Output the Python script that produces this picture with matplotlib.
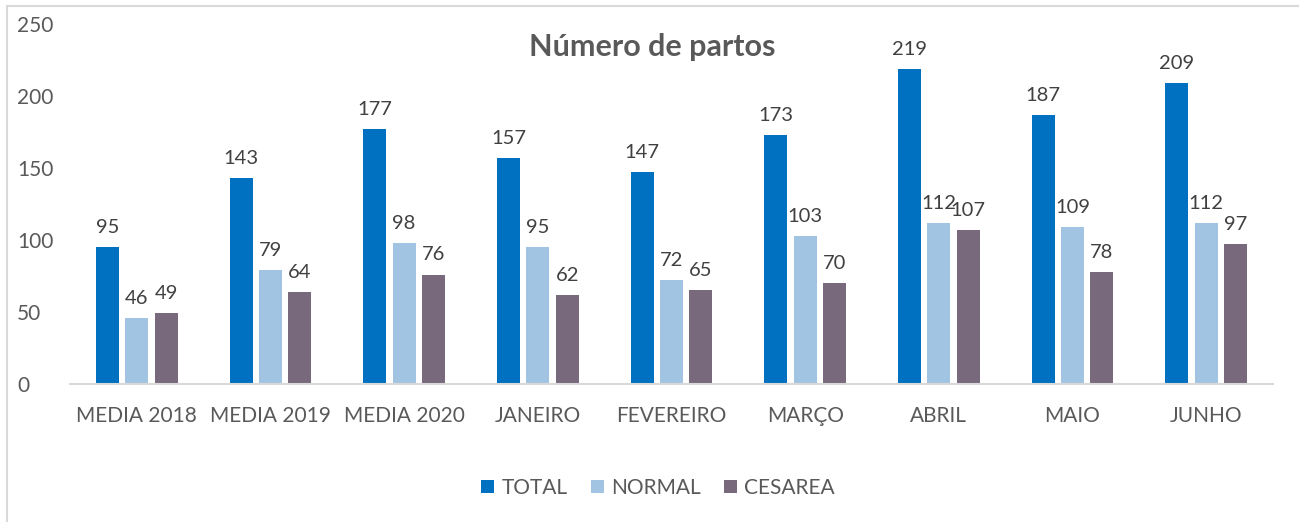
import matplotlib
matplotlib.use("Agg")
import matplotlib.pyplot as plt
import numpy as np
from matplotlib.patches import Rectangle

categories = ["MEDIA 2018", "MEDIA 2019", "MEDIA 2020", "JANEIRO", "FEVEREIRO",
              "MARÇO", "ABRIL", "MAIO", "JUNHO"]
total = [95, 143, 177, 157, 147, 173, 219, 187, 209]
normal = [46, 79, 98, 95, 72, 103, 112, 109, 112]
cesarea = [49, 64, 76, 62, 65, 70, 107, 78, 97]
series_names = ["TOTAL", "NORMAL", "CESAREA"]
colors = ["#0070C0", "#A2C4E3", "#786A7C"]

plt.rcParams['font.family'] = ['Lato', 'DejaVu Sans']
W, H = 1299, 522
fig = plt.figure(figsize=(W/100, H/100), dpi=100)
ax = fig.add_axes([70/W, 1-384/H, (1273-70)/W, (384-24)/H])

x = np.arange(len(categories))
bw = 0.172
step = 0.22
for i, (vals, name, c) in enumerate(zip([total, normal, cesarea], series_names, colors)):
    xs = x + (i-1)*step
    ax.bar(xs, vals, bw, color=c, label=name)
    for xi, v in zip(xs, vals):
        ax.annotate(str(v), (xi, v), xytext=(0, 8), textcoords="offset points",
                    ha="center", va="bottom", fontsize=14.5, color="#404040")

ax.set_xlim(-0.5, len(categories)-0.5)
ax.set_ylim(0, 250)
ax.set_yticks([0, 50, 100, 150, 200, 250])
ax.set_xticks(x)
ax.set_xticklabels(categories)
ax.tick_params(axis='both', length=0, labelsize=15, colors="#595959")
ax.tick_params(axis='x', pad=16)
ax.tick_params(axis='y', pad=38)
for lab in ax.get_yticklabels():
    lab.set_horizontalalignment('left')
for s in ["top", "right", "left"]:
    ax.spines[s].set_visible(False)
ax.spines["bottom"].set_color("#D9D9D9")
ax.spines["bottom"].set_linewidth(1.5)

fig.text(652/W, 1-47/H, "Número de partos", ha="center", va="center",
         fontsize=22, fontweight="bold", color="#595959")

leg = fig.legend(loc="center", bbox_to_anchor=(658/W, 1-488/H), ncol=3, frameon=False,
                 fontsize=15, handlelength=0.63, handleheight=0.63, columnspacing=1.1,
                 handletextpad=0.35, labelcolor="#595959")

fig.patches.append(Rectangle((7/W, -0.1), 1.2, 1-6/H+0.1, transform=fig.transFigure,
                             fill=False, edgecolor="#D9D9D9", linewidth=1.5))

fig.savefig("out.png", dpi=100)
